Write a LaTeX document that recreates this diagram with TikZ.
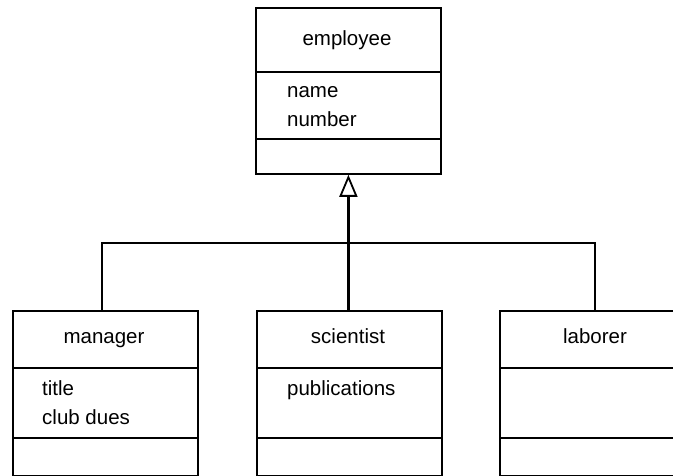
\documentclass[tikz,border=0pt]{standalone}
\usepackage{fontspec}
\setmainfont{Liberation Sans}
\usetikzlibrary{arrows.meta}
\begin{document}
\begin{tikzpicture}[x=1pt,y=-1pt,
  comp/.style={draw, line width=1.8pt, minimum width=185pt, inner sep=0pt, anchor=north west},
  lbl/.style={font=\fontsize{20.5}{24}\selectfont, inner sep=0pt},
  title/.style={lbl, anchor=base},
  attr/.style={lbl, anchor=base west},
  link/.style={line width=2.5pt},
  gen/.style={link, -{Triangle[open, width=18pt, length=22pt, line width=1.8pt]}}]
\useasboundingbox (0,0) rectangle (673,476);
\clip (0,0) rectangle (673,476);
% employee
\node[comp, minimum height=64pt] (empN) at (255,7) {};
\node[comp, minimum height=67pt] (empA) at (255,71) {};
\node[comp, minimum height=35pt] (empO) at (255,138) {};
\node[title] (empT) at (347,46) {employee};
\node[attr] (empA1) at (287,98) {name};
\node[attr] (empA2) at (287,127) {number};
% manager
\node[comp, minimum height=57pt] (manN) at (12,310) {};
\node[comp, minimum height=70pt] (manA) at (12,367) {};
\node[comp, minimum height=38pt] (manO) at (12,437) {};
\node[title] (manT) at (104,343) {manager};
\node[attr] (manA1) at (42,395) {title};
\node[attr] (manA2) at (42,424) {club dues};
% scientist
\node[comp, minimum height=57pt] (sciN) at (256,310) {};
\node[comp, minimum height=70pt] (sciA) at (256,367) {};
\node[comp, minimum height=38pt] (sciO) at (256,437) {};
\node[title] (sciT) at (348,343) {scientist};
\node[attr] (sciA1) at (287,395) {publications};
% laborer
\node[comp, minimum height=57pt] (labN) at (499,310) {};
\node[comp, minimum height=70pt] (labA) at (499,367) {};
\node[comp, minimum height=38pt] (labO) at (499,437) {};
\node[title] (labT) at (595,343) {laborer};
% connectors
\coordinate (jM) at (102,243);
\coordinate (jL) at (595,243);
\draw[link] (manN.north -| jM) -- (jM) -- (jL) -- (labN.north -| jL);
\draw[gen] (sciN.north -| empO.south) -- (empO.south);
\end{tikzpicture}
\end{document}
